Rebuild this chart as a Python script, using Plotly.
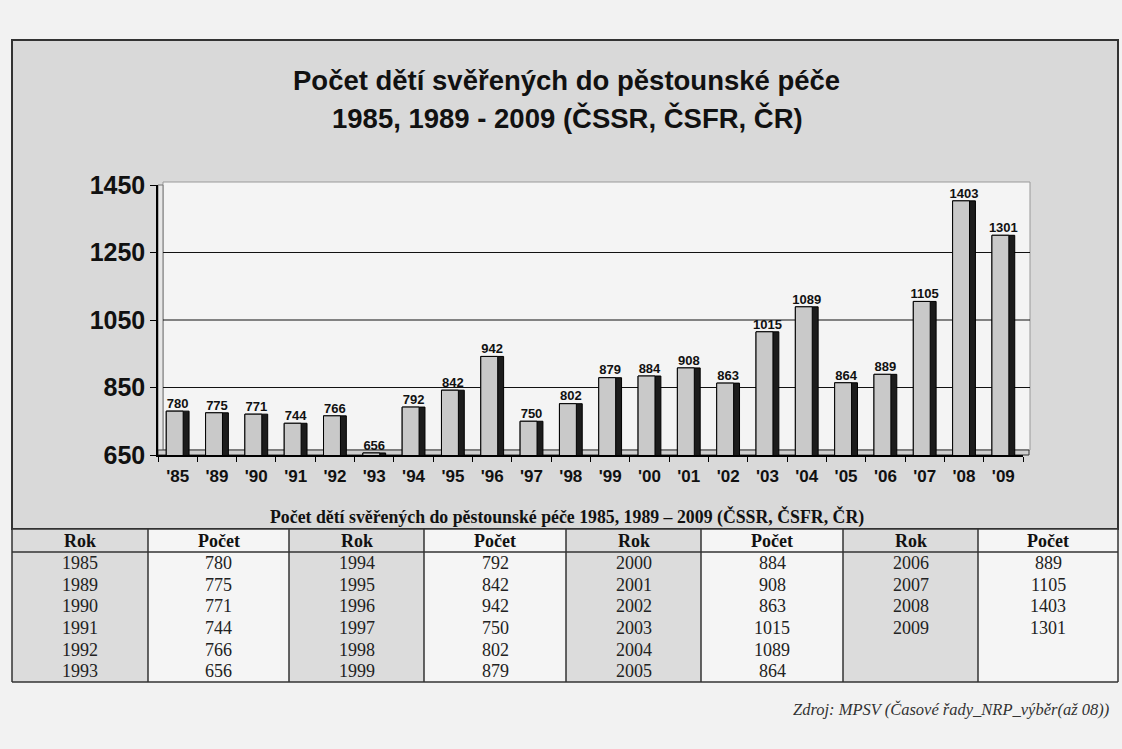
import plotly.graph_objects as go

# ---------------- data ----------------
years = [1985, 1989, 1990, 1991, 1992, 1993, 1994, 1995, 1996, 1997, 1998,
         1999, 2000, 2001, 2002, 2003, 2004, 2005, 2006, 2007, 2008, 2009]
counts = [780, 775, 771, 744, 766, 656, 792, 842, 942, 750, 802,
          879, 884, 908, 863, 1015, 1089, 864, 889, 1105, 1403, 1301]
categories = ["'" + str(y)[2:] for y in years]
y_ticks = [650, 850, 1050, 1250, 1450]

title_line1 = "Počet dětí svěřených do pěstounské péče"
title_line2 = "1985, 1989 - 2009 (ČSSR, ČSFR, ČR)"
table_title = "Počet dětí svěřených do pěstounské péče 1985, 1989 – 2009 (ČSSR, ČSFR, ČR)"
table_headers = ["Rok", "Počet"]
source_text = "Zdroj: MPSV (Časové řady_NRP_výběr(až 08))"

# ---------------- layout helpers ----------------
W, H = 1122, 749
def fx(x):
    return x / W
def fy(y):
    return 1 - y / H

SANS = "Liberation Sans, Arial, sans-serif"
SERIF = "Liberation Serif, Times New Roman, serif"

fig = go.Figure()

# 3D side of bars (dark)
fig.add_trace(go.Bar(
    x=categories, y=counts, width=0.58, offset=-0.29,
    marker=dict(color="#1c1c1c", line=dict(color="#000", width=1)),
    hoverinfo="skip", showlegend=False))
# front face of bars
fig.add_trace(go.Bar(
    x=categories, y=counts, width=0.43, offset=-0.29,
    marker=dict(color="#c9c9c9", line=dict(color="#000", width=1)),
    showlegend=False))
# value labels
fig.add_trace(go.Scatter(
    x=categories, y=counts, mode="text", text=[str(v) for v in counts],
    textposition="top center",
    textfont=dict(family=SANS, size=13, color="#111", weight="bold"),
    showlegend=False, cliponaxis=False, hoverinfo="skip"))

shapes = []
annotations = []

def ann(text, x, y, size, family, color="#111", xanchor="center"):
    annotations.append(dict(text=text, xref="paper", yref="paper",
                            x=fx(x), y=fy(y), xanchor=xanchor, yanchor="middle",
                            showarrow=False,
                            font=dict(family=family, size=size, color=color)))

# outer grey panel
shapes.append(dict(type="rect", xref="paper", yref="paper",
                   x0=fx(12), x1=fx(1118), y0=fy(529), y1=fy(40),
                   fillcolor="#d9d9d9", line=dict(color="#333", width=2), layer="below"))
# back wall of plot
shapes.append(dict(type="rect", xref="paper", yref="paper",
                   x0=fx(163), x1=fx(1030), y0=fy(450), y1=fy(182),
                   fillcolor="#f4f4f4", line=dict(color="#999", width=1), layer="below"))
# left wall band
shapes.append(dict(type="rect", xref="paper", yref="paper",
                   x0=fx(158), x1=fx(163), y0=fy(455), y1=fy(185),
                   fillcolor="#e6e6e6", line=dict(color="#777", width=1), layer="below"))
# floor
shapes.append(dict(type="rect", xref="paper", yref="paper",
                   x0=fx(158), x1=fx(1029), y0=fy(455), y1=fy(450),
                   fillcolor="#cfcfcf", line=dict(color="#333", width=1), layer="below"))

# horizontal grid lines at inner ticks
for t in y_ticks[1:-1]:
    shapes.append(dict(type="line", xref="paper", yref="y",
                       x0=fx(163), x1=fx(1030), y0=t, y1=t,
                       line=dict(color="#111", width=1.2), layer="below"))

# chart title
ann("<b>" + title_line1 + "</b>", 566, 81, 27.5, SANS)
ann("<b>" + title_line2 + "</b>", 567, 118, 27.5, SANS)

# table title
ann("<b>" + table_title + "</b>", 567, 517, 17.8, SERIF)

# ---------------- table ----------------
col_edges = [12, 148, 289, 424, 566, 701, 843, 978, 1118]
top, head_bot, bottom = 529, 552, 682
n_rows = 6
row_h = (bottom - head_bot) / n_rows

for i in range(8):
    fill = "#dcdcdc" if i % 2 == 0 else "#f5f5f5"
    shapes.append(dict(type="rect", xref="paper", yref="paper",
                       x0=fx(col_edges[i]), x1=fx(col_edges[i + 1]),
                       y0=fy(bottom), y1=fy(top),
                       fillcolor=fill, line=dict(width=0), layer="below"))
for e in col_edges:
    shapes.append(dict(type="line", xref="paper", yref="paper",
                       x0=fx(e), x1=fx(e), y0=fy(bottom), y1=fy(top),
                       line=dict(color="#333", width=1.5)))
for yy in (top, head_bot, bottom):
    shapes.append(dict(type="line", xref="paper", yref="paper",
                       x0=fx(col_edges[0]), x1=fx(col_edges[-1]), y0=fy(yy), y1=fy(yy),
                       line=dict(color="#333", width=1.5)))

for g in range(4):
    for k in range(2):
        c = g * 2 + k
        xc = (col_edges[c] + col_edges[c + 1]) / 2
        ann("<b>" + table_headers[k] + "</b>", xc, (top + head_bot) / 2, 18, SERIF)
    grp_years = years[g * n_rows:(g + 1) * n_rows]
    grp_counts = counts[g * n_rows:(g + 1) * n_rows]
    for r, (yv, cv) in enumerate(zip(grp_years, grp_counts)):
        ym = head_bot + row_h * (r + 0.5)
        for k, val in enumerate((yv, cv)):
            c = g * 2 + k
            xc = (col_edges[c] + col_edges[c + 1]) / 2
            ann(str(val), xc, ym, 18, SERIF, color="#222")

# source
ann("<i>" + source_text + "</i>", 1111, 709, 16.5, SERIF, color="#333", xanchor="right")

fig.update_layout(
    template="none",
    width=W, height=H,
    margin=dict(l=0, r=0, t=0, b=0, pad=0),
    paper_bgcolor="#f2f2f2",
    plot_bgcolor="rgba(0,0,0,0)",
    barmode="overlay",
    shapes=shapes,
    annotations=annotations,
    xaxis=dict(domain=[fx(158), fx(1023)], type="category", automargin=False,
               range=[-0.5, len(categories) - 0.5],
               showline=True, linecolor="#000", linewidth=1.5,
               ticks="outside", tickson="boundaries", ticklen=5, tickcolor="#000",
               ticklabelstandoff=5,
               tickfont=dict(family=SANS, size=17, color="#111", weight="bold"),
               showgrid=False, zeroline=False),
    yaxis=dict(domain=[fy(455), fy(185)], range=[650, 1450], automargin=False,
               tickvals=y_ticks, showline=True, linecolor="#000", linewidth=1.5,
               ticks="outside", ticklen=6, tickcolor="#000",
               tickfont=dict(family=SANS, size=25, color="#111", weight="bold"),
               showgrid=False, zeroline=False),
)

fig.write_html("out.html", config={"displayModeBar": False},
               post_script="document.body.style.margin='0';document.body.style.overflow='hidden';document.body.style.background='#f2f2f2';")
